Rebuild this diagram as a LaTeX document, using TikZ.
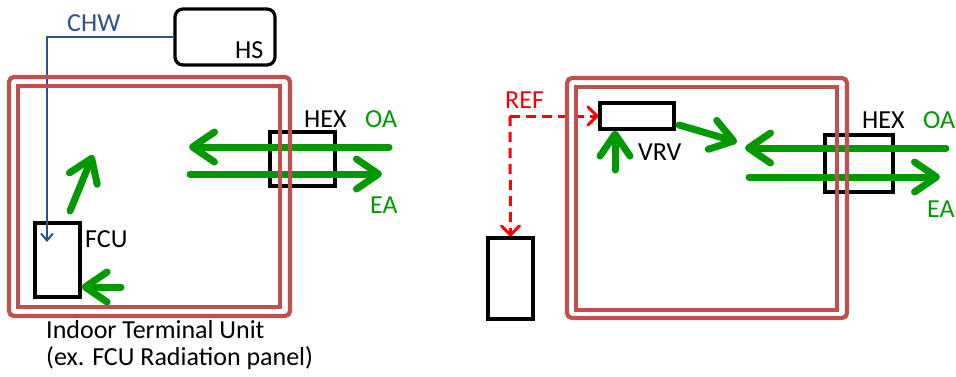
\documentclass[tikz,border=0pt]{standalone}
\usepackage{fontspec}
\setmainfont{Carlito}
\usetikzlibrary{arrows.meta}
\definecolor{wallred}{RGB}{192,80,77}
\definecolor{airgreen}{RGB}{0,153,0}
\definecolor{chwblue}{RGB}{44,82,140}
\definecolor{refred}{RGB}{255,0,0}
\tikzset{
  unitbox/.style={draw=black, line width=3.2pt, inner sep=0pt},
  wall/.style={draw=wallred, line width=4.2pt},
  air/.style={draw=airgreen, line width=7pt, line cap=round,
    -{Straight Barb[length=22pt,width=30pt,round]}},
  chwline/.style={draw=chwblue, line width=2pt,
    -{Straight Barb[length=7pt,width=12pt]}},
  refline/.style={draw=refred, line width=3pt, dash pattern=on 10pt off 6pt,
    -{Straight Barb[length=9pt,width=18pt,round]}},
  lbl/.style={font=\fontsize{26pt}{30pt}\selectfont, inner sep=0pt, anchor=base west},
}
\begin{document}
\begin{tikzpicture}[x=1pt,y=-1pt]
\useasboundingbox (0,0) rectangle (956,376);
% ---------------- left diagram ----------------
\node[unitbox, rounded corners=8pt, minimum width=100pt, minimum height=56pt] (HS) at (225,37) {};
\node[lbl] (hslbl) at (235,58) {HS};
\node[lbl, text=chwblue] (chwlbl) at (67,31) {CHW};
\node[unitbox, minimum width=45pt, minimum height=74pt] (FCU) at (57.5,260) {};
\node[lbl] (fculbl) at (85,247) {FCU};
\node[unitbox, minimum width=65pt, minimum height=54pt] (HEXL) at (302.5,159) {};
\node[lbl] (hexllbl) at (304,127) {HEX};
\node[lbl, text=airgreen] (oallbl) at (365,127) {OA};
\node[lbl, text=airgreen] (eallbl) at (370,213) {EA};
% air arrows
\coordinate (oaLs) at (389,147);
\coordinate (oaLe) at (189,147);
\coordinate (eaLs) at (190,174);
\coordinate (eaLe) at (382,174);
\draw[air] (oaLs) -- (oaLe);
\draw[air] (eaLs) -- (eaLe);
\coordinate (dgs) at (70,211);
\coordinate (dge) at (93,155);
\draw[air] (dgs) -- (dge);
\coordinate (fcuas) at (121,287);
\draw[air] (fcuas) -- (FCU.east |- fcuas);
% chilled water
\coordinate (fcuin) at (47,242);
\draw[chwline] (HS.west) -| (fcuin);
% walls
\draw[wall, rounded corners=5pt] (9,77) rectangle (290,316);
\draw[wall] (18,86) rectangle (280,307);
\node[lbl] (itu1) at (46,338) {Indoor Terminal Unit};
\node[lbl] (itu2) at (46,365) {(ex. FCU Radiation panel)};
% ---------------- right diagram ----------------
\node[unitbox, minimum width=74pt, minimum height=26pt] (VRV) at (637,116) {};
\node[lbl] (vrvlbl) at (638,160) {VRV};
\node[unitbox, minimum width=45pt, minimum height=81pt] (OU) at (510.5,278.5) {};
\node[unitbox, minimum width=68pt, minimum height=57pt] (HEXR) at (859,163.5) {};
\node[lbl] (hexrlbl) at (862,128) {HEX};
\node[lbl, text=airgreen] (oarlbl) at (923,128) {OA};
\node[lbl, text=airgreen] (earlbl) at (927,217) {EA};
\node[lbl, text=refred] (reflbl) at (505,108) {REF};
\coordinate (refc) at (510,116);
\draw[refline] (refc) -- (VRV.west);
\draw[refline] (refc) -- (OU.north);
\coordinate (oaRs) at (946,148);
\coordinate (oaRe) at (745,148);
\coordinate (eaRs) at (749,177);
\coordinate (eaRe) at (940,177);
\draw[air] (oaRs) -- (oaRe);
\draw[air] (eaRs) -- (eaRe);
\coordinate (vrvup) at (615,170);
\draw[air] (vrvup) -- (VRV.south -| vrvup);
\coordinate (vrvos) at (679,125);
\coordinate (vrvoe) at (737,142);
\draw[air] (vrvos) -- (vrvoe);
\draw[wall, rounded corners=5pt] (567,78) rectangle (847,318);
\draw[wall] (576,87) rectangle (837,310);
\end{tikzpicture}
\end{document}
